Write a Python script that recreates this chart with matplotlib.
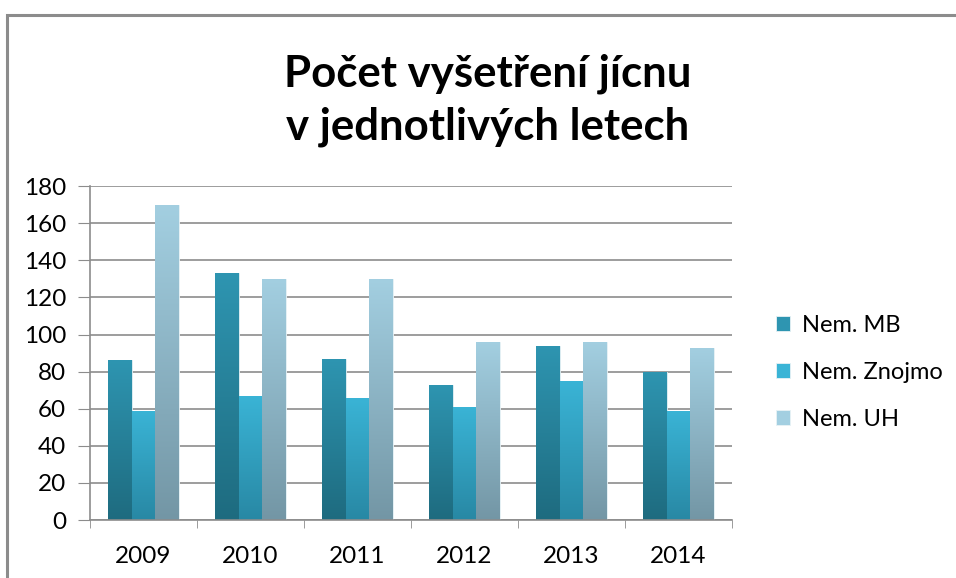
import numpy as np
import matplotlib
matplotlib.use("Agg")
import matplotlib.pyplot as plt
from matplotlib.colors import LinearSegmentedColormap
from matplotlib.patches import Rectangle

plt.rcParams['font.family'] = ['Lato', 'DejaVu Sans']

# data
years = ['2009', '2010', '2011', '2012', '2013', '2014']
series_names = ['Nem. MB', 'Nem. Znojmo', 'Nem. UH']
mb = [86, 133, 87, 73, 94, 80]
znojmo = [59, 67, 66, 61, 75, 59]
uh = [170, 130, 130, 96, 96, 93]
y_ticks = [0, 20, 40, 60, 80, 100, 120, 140, 160, 180]

# (top colour, bottom colour) for each series
grads = [('#2E95B1', '#1E6B7F'),
         ('#3AB4D6', '#2888A4'),
         ('#A3CFE1', '#7396A5')]

fig = plt.figure(figsize=(9.56, 5.78), dpi=100)
ax = fig.add_axes([0.0941, 0.1003, 0.6716, 0.5777])

x = np.arange(len(years))
bw = 1 / 4.5
for i, vals in enumerate([mb, znojmo, uh]):
    bars = ax.bar(x + (i - 1) * bw, vals, bw, color=grads[i][0],
                  edgecolor='#E8F2F5', linewidth=0.6, zorder=2,
                  label=series_names[i])
    cmap = LinearSegmentedColormap.from_list('g%d' % i, [grads[i][1], grads[i][0]])
    grad = np.linspace(0, 1, 256).reshape(-1, 1)
    for b in bars:
        bx, by = b.get_x(), b.get_y()
        w, h = b.get_width(), b.get_height()
        im = ax.imshow(grad, cmap=cmap, aspect='auto', origin='lower',
                       extent=(bx, bx + w, by, by + h), zorder=2.5)
        im.set_clip_path(b)

ax.set_xlim(-0.5, len(years) - 0.5)
ax.set_ylim(0, 180)
ax.set_yticks(y_ticks)
ax.set_xticks(x)
ax.set_xticklabels(years)
ax.set_xticks(np.arange(len(years) + 1) - 0.5, minor=True)
ax.tick_params(axis='x', which='major', length=0, pad=19, labelsize=17.5)
ax.tick_params(axis='x', which='minor', length=6, color='#8C8C8C', direction='out')
ax.tick_params(axis='y', length=9, color='#8C8C8C', pad=8, labelsize=17.5)
ax.grid(axis='y', color='#8C8C8C', linewidth=1.2, zorder=0)
ax.set_axisbelow(True)
for s in ['top', 'right']:
    ax.spines[s].set_visible(False)
for s in ['left', 'bottom']:
    ax.spines[s].set_color('#8C8C8C')
    ax.spines[s].set_linewidth(1.2)

leg = ax.legend(loc='center left', bbox_to_anchor=(1.035, 0.443), frameon=False,
                fontsize=17, handlelength=0.6, handleheight=0.6,
                handletextpad=0.5, labelspacing=1.1)

fig.text(0.51, 0.827, 'Počet vyšetření jícnu\nv jednotlivých letech',
         ha='center', va='center', fontsize=31.5, fontweight='bold',
         linespacing=1.38)

# outer chart frame (cropped on the right and bottom in the reference)
fig.patches.append(Rectangle((7 / 956, -0.05), 1.2, 1 - 15 / 578 + 0.05,
                             transform=fig.transFigure, fill=False,
                             edgecolor='#8C8C8C', linewidth=2.2))

fig.savefig('out.png', dpi=100, facecolor='white')
